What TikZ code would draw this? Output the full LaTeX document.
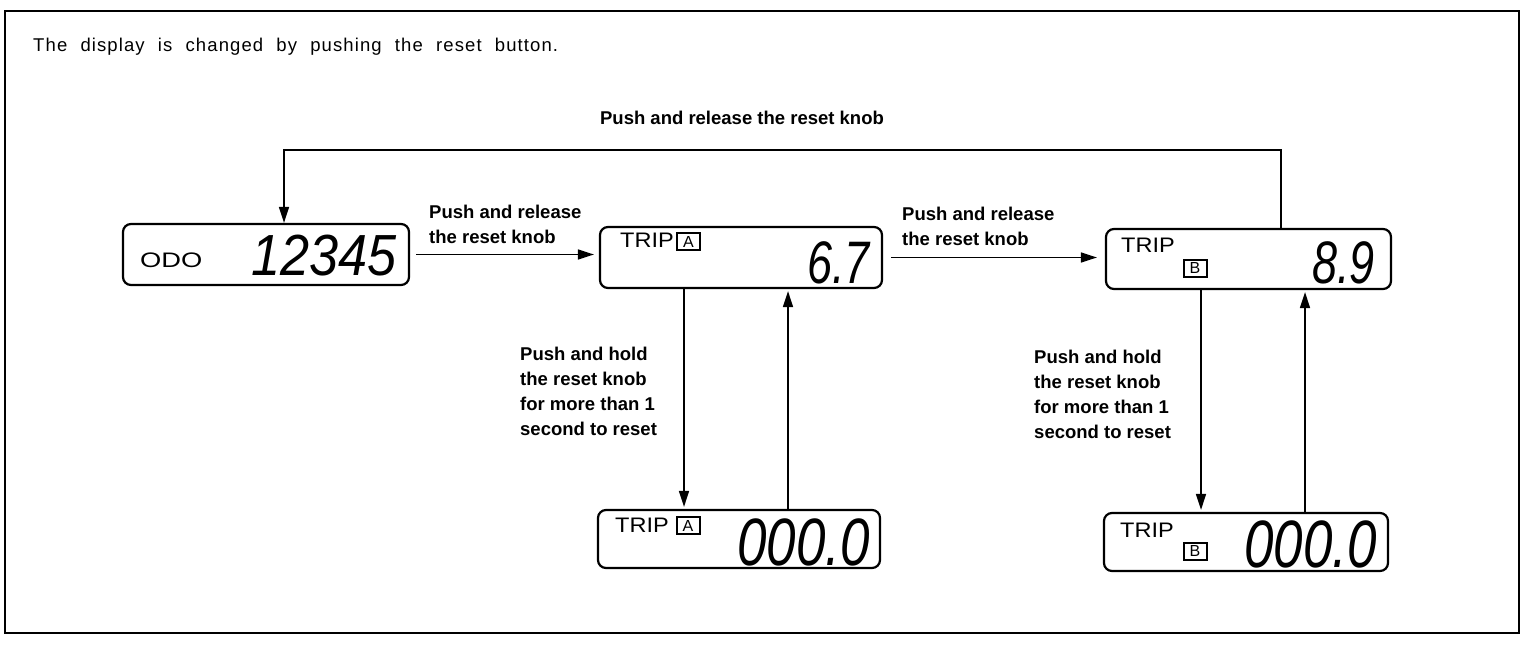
\documentclass[tikz,border=0pt]{standalone}
\usepackage{fontspec}
\usepackage{graphicx}
\setmainfont{Liberation Sans}
\newfontfamily\lcdfont{Liberation Sans}
\newfontfamily\titlefont[LetterSpace=6]{Liberation Sans}
\usetikzlibrary{arrows.meta}

\begin{document}
\begin{tikzpicture}[x=1bp,y=-1bp,
  disp/.style={draw, line width=2.2bp, rounded corners=8bp, inner sep=0},
  arr/.style={line width=1.6bp, -{Triangle[length=16bp,width=10bp]}},
  lbl/.style={font=\fontsize{18.5bp}{25bp}\selectfont\bfseries, align=left, inner sep=0},
  tag/.style={font=\fontsize{21bp}{21bp}\selectfont, inner sep=0, anchor=base west},
  boxed/.style={draw, line width=2bp, inner sep=0, minimum width=23bp, minimum height=17bp,
    font=\fontsize{16bp}{16bp}\selectfont},
  lcd/.style={inner sep=0, anchor=base east}
]
\useasboundingbox (0,0) rectangle (1536,648);
\draw[line width=2.5bp] (5,11) rectangle (1519,633);

\node[anchor=north west, inner sep=0, font=\fontsize{18.5bp}{18.5bp}\titlefont] (title) at (33,38)
  {\makebox[525bp][s]{The display is changed by pushing the reset button.}};

% display boxes
\node[disp, minimum width=286bp, minimum height=61bp] (odo) at (266,254.5) {};
\node[disp, minimum width=282bp, minimum height=61bp] (tripA) at (741,257.5) {};
\node[disp, minimum width=285bp, minimum height=60bp] (tripB) at (1248.5,259) {};
\node[disp, minimum width=282bp, minimum height=58bp] (tripAb) at (739,539) {};
\node[disp, minimum width=284bp, minimum height=58bp] (tripBb) at (1246,542) {};

% box contents
\node[tag] (odotxt) at (140,267) {\scalebox{1.3}[1]{ODO}};
\node[lcd, font=\fontsize{58bp}{58bp}\lcdfont\itshape] (odonum) at (397,275) {\scalebox{0.9}[1]{12345}};

\node[tag] (tripAtxt) at (620,247) {\scalebox{1.12}[1]{TRIP}};
\node[boxed] (tagA) at (688.5,241.5) {A};
\node[lcd, font=\fontsize{60bp}{60bp}\lcdfont\itshape] (tripAnum) at (870,283) {\scalebox{0.75}[1]{6.7}};

\node[tag] (tripBtxt) at (1121,252) {\scalebox{1.12}[1]{TRIP}};
\node[boxed] (tagB) at (1195,268) {B};
\node[lcd, font=\fontsize{60bp}{60bp}\lcdfont\itshape] (tripBnum) at (1375,283) {\scalebox{0.75}[1]{8.9}};

\node[tag] (tripAbtxt) at (615,532) {\scalebox{1.12}[1]{TRIP}};
\node[boxed] (tagAb) at (688,525.5) {A};
\node[lcd, font=\fontsize{67bp}{67bp}\lcdfont\itshape] (tripAbnum) at (870,565) {\scalebox{0.79}[1]{000.0}};

\node[tag] (tripBbtxt) at (1120,537) {\scalebox{1.12}[1]{TRIP}};
\node[boxed] (tagBb) at (1195,551) {B};
\node[lcd, font=\fontsize{67bp}{67bp}\lcdfont\itshape] (tripBbnum) at (1377,567) {\scalebox{0.79}[1]{000.0}};

% connectors
\coordinate (toprow) at (0,150);
\draw[arr, shorten <=6bp, shorten >=5bp] (odo.east) -- (odo.east -| tripA.west);
\draw[arr, shorten <=8bp, shorten >=8bp] (tripA.east) -- (tripA.east -| tripB.west);
\draw[arr] ([xshift=32.5bp]tripB.north) |- ([xshift=18bp]odo.north |- toprow) -- ([xshift=18bp]odo.north);

\draw[arr, shorten >=2bp] ([xshift=-57bp]tripA.south) -- ([xshift=-57bp]tripA.south |- tripAb.north);
\draw[arr, shorten >=2bp] ([xshift=47bp]tripA.south |- tripAb.north) -- ([xshift=47bp]tripA.south);
\draw[arr, shorten >=2bp] ([xshift=-47.5bp]tripB.south) -- ([xshift=-47.5bp]tripB.south |- tripBb.north);
\draw[arr, shorten >=2bp] ([xshift=56.5bp]tripB.south |- tripBb.north) -- ([xshift=56.5bp]tripB.south);

% labels
\node[lbl, anchor=north west] (l1) at (429,205) {Push and release\\the reset knob};
\node[lbl, anchor=north west] (l2) at (902,207) {Push and release\\the reset knob};
\node[lbl, anchor=north] (l3) at (742,111) {Push and release the reset knob};
\node[lbl, anchor=north west] (l4) at (520,347) {Push and hold\\the reset knob\\for more than 1\\second to reset};
\node[lbl, anchor=north west] (l5) at (1034,350) {Push and hold\\the reset knob\\for more than 1\\second to reset};
\end{tikzpicture}
\end{document}
